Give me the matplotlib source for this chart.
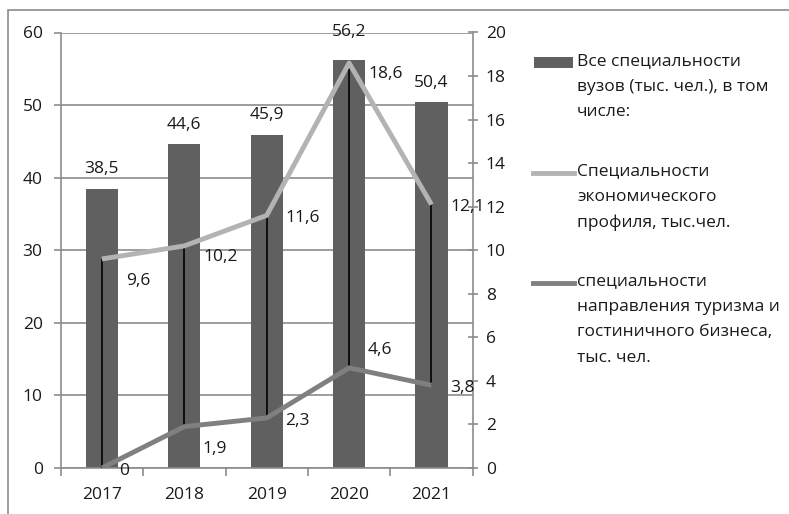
import numpy as np
import matplotlib
matplotlib.use("Agg")
import matplotlib.pyplot as plt
import matplotlib.patches as mpatches
import matplotlib.lines as mlines

plt.rcParams['font.family'] = ['Open Sans', 'DejaVu Sans']

years = ['2017', '2018', '2019', '2020', '2021']
all_students = [38.5, 44.6, 45.9, 56.2, 50.4]
econ_students = [9.6, 10.2, 11.6, 18.6, 12.1]
tourism_students = [0, 1.9, 2.3, 4.6, 3.8]

legend_labels = [
    'Все специальности\nвузов (тыс. чел.), в том\nчисле:',
    'Специальности\nэкономического\nпрофиля, тыс.чел.',
    'специальности\nнаправления туризма и\nгостиничного бизнеса,\nтыс. чел.',
]

bar_color = '#606060'
econ_color = '#b3b3b3'
tour_color = '#808080'
grid_color = '#8c8c8c'
text_color = '#1a1a1a'
fs = 12.5

W, H = 789, 514
fig = plt.figure(figsize=(W / 100, H / 100), dpi=100)
ax = fig.add_axes([60.7 / W, 1 - 468 / H, (472.7 - 60.7) / W, (468 - 32.5) / H])

# outer frame of the chart area
fig.add_artist(mpatches.Rectangle((8 / W, -0.1), 1.2, 1.1 - 10 / H,
                                  transform=fig.transFigure, fill=False,
                                  edgecolor=grid_color, linewidth=1.2))

x = np.arange(len(years))
ax.bar(x, all_students, width=0.39, color=bar_color, zorder=2)
ax.set_xlim(-0.5, len(years) - 0.5)
ax.set_ylim(0, 60)
ax.set_yticks(np.arange(0, 61, 10))
ax.yaxis.grid(True, color=grid_color, linewidth=1.2, zorder=0)
ax.set_axisbelow(True)

ax.set_xticks(x)
ax.set_xticklabels(years)
ax.set_xticks(np.arange(-0.5, len(years), 1), minor=True)
ax.tick_params(axis='x', which='major', length=0, pad=14, labelsize=fs, labelcolor=text_color)
ax.tick_params(axis='x', which='minor', length=6, direction='out', color=grid_color, width=1.2)
ax.tick_params(axis='y', length=5, direction='out', color=grid_color, width=1.2,
               labelsize=fs, labelcolor=text_color, pad=8)

for sp in ['top', 'right']:
    ax.spines[sp].set_visible(False)
for sp in ['left', 'bottom']:
    ax.spines[sp].set_color(grid_color)
    ax.spines[sp].set_linewidth(1.2)

bar_offsets = [14, 14, 14, 20, 14]
for xi, v, off in zip(x, all_students, bar_offsets):
    ax.annotate(f'{v}'.replace('.', ','), (xi, v), xytext=(0, off), textcoords='offset points',
                ha='center', va='center', fontsize=fs, color=text_color)

ax2 = ax.twinx()
ax2.set_ylim(0, 20)
ax2.set_yticks(np.arange(0, 21, 2))
ax2.tick_params(axis='y', length=7, direction='inout', color=grid_color, width=1.2,
                labelsize=fs, labelcolor=text_color, pad=6)
for sp in ['top', 'left', 'bottom']:
    ax2.spines[sp].set_visible(False)
ax2.spines['right'].set_color(grid_color)
ax2.spines['right'].set_linewidth(1.2)

ax2.vlines(x, tourism_students, econ_students, color='black', linewidth=1.2, zorder=3)
ax2.plot(x, econ_students, color=econ_color, linewidth=3.5, zorder=4, solid_capstyle='butt')
ax2.plot(x, tourism_students, color=tour_color, linewidth=3.5, zorder=4, solid_capstyle='butt')

econ_offsets = [(26, -16), (26, -8), (26, -2), (26, -8), (26, -2)]
tour_offsets = [(16, -2), (22, -16), (22, -2), (22, 13), (22, -2)]
for xi, v, off in zip(x, econ_students, econ_offsets):
    ax2.annotate(f'{v}'.replace('.', ','), (xi, v), xytext=off, textcoords='offset points',
                 ha='center', va='center', fontsize=fs, color=text_color)
for xi, v, off in zip(x, tourism_students, tour_offsets):
    ax2.annotate(f'{v}'.replace('.', ','), (xi, v), xytext=off, textcoords='offset points',
                 ha='center', va='center', fontsize=fs, color=text_color)

# legend drawn beside the plot
leg_y = [63, 173, 283]
handles = [
    mpatches.Rectangle((534 / W, 1 - 68 / H), 39 / W, 11 / H, transform=fig.transFigure,
                       facecolor=bar_color, edgecolor='none'),
    mlines.Line2D([533 / W, 574 / W], [1 - leg_y[1] / H] * 2, transform=fig.transFigure,
                  color=econ_color, linewidth=3.5),
    mlines.Line2D([533 / W, 574 / W], [1 - leg_y[2] / H] * 2, transform=fig.transFigure,
                  color=tour_color, linewidth=3.5),
]
for h in handles:
    fig.add_artist(h)
for yy, lab in zip(leg_y, legend_labels):
    fig.text(577 / W, 1 - (yy - 10) / H, lab, ha='left', va='top', fontsize=fs,
             color=text_color, linespacing=1.8)

fig.savefig('out.png', dpi=100)
